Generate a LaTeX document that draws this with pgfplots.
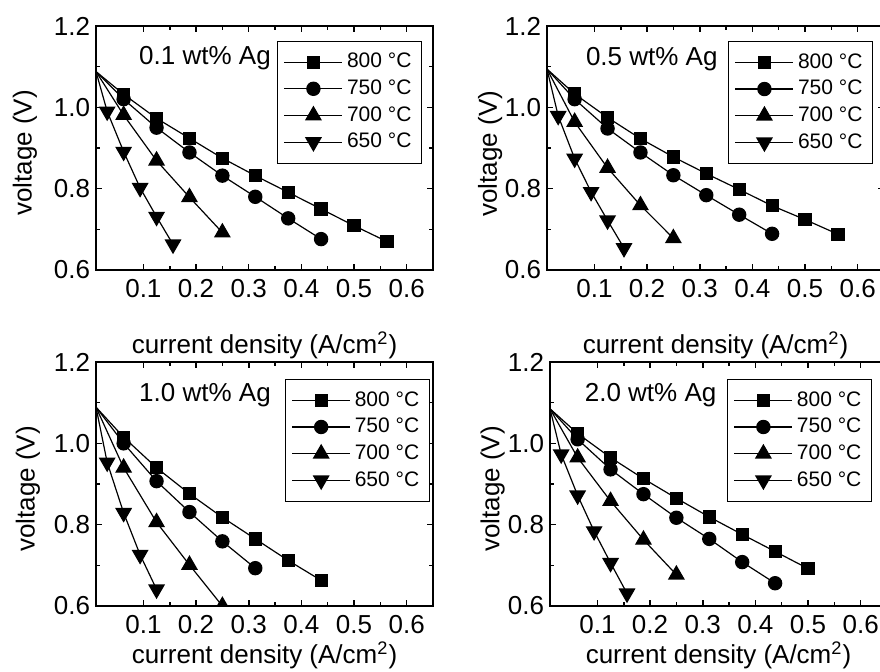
\documentclass[border=0pt]{standalone}
\usepackage{pgfplots}
\pgfplotsset{compat=1.18}
\usepackage{fontspec}
\setmainfont{Liberation Sans}

\pgfplotsset{
  panel/.style={
    scale only axis, width=168.5pt, height=122pt,
    xmin=0.01, xmax=0.65, ymin=0.6, ymax=1.2,
    xtick={0.1,0.2,0.3,0.4,0.5,0.6}, ytick={0.6,0.8,1.0,1.2},
    minor x tick num=1, minor y tick num=1,
    tick align=inside, xtick pos=both, ytick pos=both,
    xticklabel pos=bottom, yticklabel pos=left,
    axis line style={line width=1pt},
    major tick length=3pt, minor tick length=2pt,
    every tick/.style={black, line width=0.8pt},
    clip marker paths=true,
    /pgf/number format/assume math mode=true,
    /pgf/number format/.cd, fixed, fixed zerofill, precision=1, /pgfplots/.cd,
    tick label style={font=\fontsize{13}{15}\selectfont},
    xticklabel style={inner sep=0pt, yshift=-4.7pt},
    yticklabel style={inner sep=0pt, xshift=-2.8pt},
    label style={font=\fontsize{13}{15}\selectfont},
    xlabel={current density (A/cm\textsuperscript{2})},
    ylabel={voltage (V)},
    legend cell align=left,
    legend style={draw=black, font=\fontsize{10.5}{12.5}\selectfont, anchor=north east,
      row sep=0.5pt, inner xsep=3pt, inner ysep=4pt},
    legend image code/.code={\draw[mark repeat=2,mark phase=2] plot coordinates {(0pt,0pt) (14.5pt,0pt) (29pt,0pt)};},
  },
  s800/.style={black, line width=0.6pt, mark=square*, mark size=3pt, mark repeat=1, mark phase=2},
  s750/.style={black, line width=0.6pt, mark=*, mark size=3.3pt, mark repeat=1, mark phase=2},
  s700/.style={black, line width=0.6pt, mark=triangle*, mark size=4.3pt, mark repeat=1, mark phase=2},
  s650/.style={black, line width=0.6pt, mark=triangle*, mark size=4.3pt, mark options={rotate=180}, mark repeat=1, mark phase=2},
}

\begin{document}
\begin{tikzpicture}

% 0.1 wt% Ag
\begin{axis}[panel, anchor=south west, at={(48pt,200.5pt)},
  xlabel style={at={(axis description cs:0.5,0)}, anchor=center, yshift=-37.5pt},
  ylabel style={at={(axis description cs:-0.211,0.48)}, anchor=center},
  legend style={at={(axis description cs:0.967,0.939)}}]
\addplot[s800] coordinates {(0.01,1.088) (0.0625,1.032) (0.125,0.973) (0.1875,0.924) (0.25,0.875) (0.3125,0.832) (0.375,0.791) (0.4375,0.750) (0.5,0.709) (0.5625,0.670)};
\addplot[s750] coordinates {(0.01,1.088) (0.0625,1.020) (0.125,0.950) (0.1875,0.889) (0.25,0.832) (0.3125,0.780) (0.375,0.727) (0.4375,0.676)};
\addplot[s700] coordinates {(0.01,1.088) (0.0625,0.981) (0.125,0.869) (0.1875,0.779) (0.25,0.692)};
\addplot[s650] coordinates {(0.01,1.088) (0.03125,0.990) (0.0625,0.891) (0.09375,0.802) (0.125,0.731) (0.15625,0.663)};
\legend{800 °C, 750 °C, 700 °C, 650 °C}
\node[font=\fontsize{13}{15}\selectfont] at (axis cs:0.217,1.12) {0.1 wt\% Ag};
\end{axis}

% 0.5 wt% Ag
\begin{axis}[panel, anchor=south west, at={(273.5pt,200.5pt)},
  xlabel style={at={(axis description cs:0.5,0)}, anchor=center, yshift=-37.5pt},
  ylabel style={at={(axis description cs:-0.169,0.477)}, anchor=center},
  legend style={at={(axis description cs:0.967,0.938)}}]
\addplot[s800] coordinates {(0.01,1.094) (0.0625,1.033) (0.125,0.975) (0.1875,0.923) (0.25,0.878) (0.3125,0.837) (0.375,0.798) (0.4375,0.758) (0.5,0.724) (0.5625,0.688)};
\addplot[s750] coordinates {(0.01,1.094) (0.0625,1.020) (0.125,0.948) (0.1875,0.889) (0.25,0.833) (0.3125,0.784) (0.375,0.736) (0.4375,0.689)};
\addplot[s700] coordinates {(0.01,1.094) (0.0625,0.964) (0.125,0.851) (0.1875,0.759) (0.25,0.678)};
\addplot[s650] coordinates {(0.01,1.094) (0.03125,0.979) (0.0625,0.874) (0.09375,0.792) (0.125,0.722) (0.15625,0.654)};
\legend{800 °C, 750 °C, 700 °C, 650 °C}
\node[font=\fontsize{13}{15}\selectfont] at (axis cs:0.209,1.118) {0.5 wt\% Ag};
\end{axis}

% 1.0 wt% Ag
\begin{axis}[panel, anchor=south west, at={(48pt,32.5pt)},
  xlabel style={at={(axis description cs:0.5,0)}, anchor=center, yshift=-24.5pt},
  ylabel style={at={(axis description cs:-0.202,0.48)}, anchor=center},
  legend style={at={(axis description cs:0.99,0.93)}}]
\addplot[s800] coordinates {(0.01,1.089) (0.0625,1.015) (0.125,0.940) (0.1875,0.876) (0.25,0.818) (0.3125,0.765) (0.375,0.712) (0.4375,0.663)};
\addplot[s750] coordinates {(0.01,1.089) (0.0625,1.000) (0.125,0.907) (0.1875,0.831) (0.25,0.759) (0.3125,0.693)};
\addplot[s700] coordinates {(0.01,1.089) (0.0625,0.940) (0.125,0.806) (0.1875,0.701) (0.25,0.600)};
\addplot[s650] coordinates {(0.01,1.089) (0.03125,0.953) (0.0625,0.829) (0.09375,0.726) (0.125,0.641)};
\legend{800 °C, 750 °C, 700 °C, 650 °C}
\node[font=\fontsize{13}{15}\selectfont] at (axis cs:0.217,1.119) {1.0 wt\% Ag};
\end{axis}

% 2.0 wt% Ag
\begin{axis}[panel, anchor=south west, at={(275pt,32.5pt)},
  xlabel style={at={(axis description cs:0.5,0)}, anchor=center, yshift=-24.5pt},
  ylabel style={at={(axis description cs:-0.17,0.48)}, anchor=center},
  legend style={at={(axis description cs:0.955,0.93)}}]
\addplot[s800] coordinates {(0.01,1.085) (0.0625,1.024) (0.125,0.965) (0.1875,0.913) (0.25,0.865) (0.3125,0.819) (0.375,0.776) (0.4375,0.734) (0.5,0.692)};
\addplot[s750] coordinates {(0.01,1.085) (0.0625,1.010) (0.125,0.936) (0.1875,0.875) (0.25,0.817) (0.3125,0.765) (0.375,0.708) (0.4375,0.656)};
\addplot[s700] coordinates {(0.01,1.085) (0.0625,0.965) (0.125,0.858) (0.1875,0.763) (0.25,0.677)};
\addplot[s650] coordinates {(0.01,1.085) (0.03125,0.973) (0.0625,0.872) (0.09375,0.784) (0.125,0.706) (0.15625,0.631)};
\legend{800 °C, 750 °C, 700 °C, 650 °C}
\node[font=\fontsize{13}{15}\selectfont] at (axis cs:0.201,1.119) {2.0 wt\% Ag};
\end{axis}

\pgfresetboundingbox
\path[use as bounding box] (0pt,0pt) rectangle (440pt,335.5pt);
\end{tikzpicture}
\end{document}
